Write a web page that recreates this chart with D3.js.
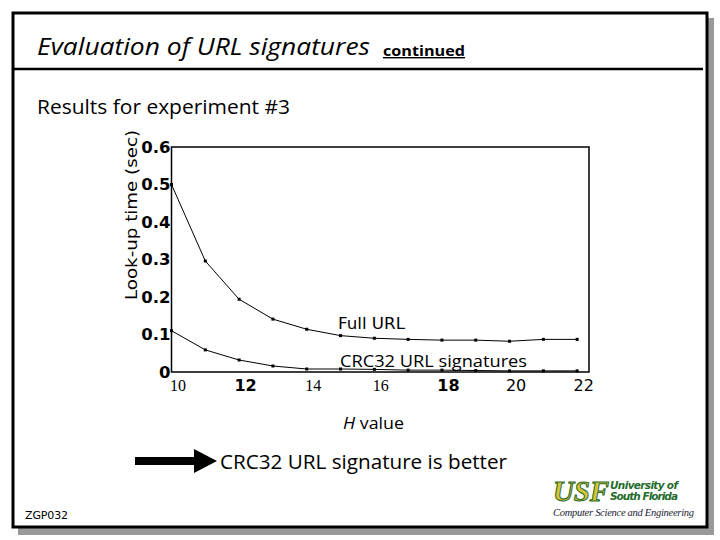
<!DOCTYPE html>
<html><head><meta charset="utf-8">
<script src="https://cdn.jsdelivr.net/npm/d3@7"></script>
<style>body{margin:0;background:#fff}svg{display:block}</style>
</head><body>
<script>
const hValues = [10,11,12,13,14,15,16,17,18,19,20,21,22];
const fullURL = [0.500,0.296,0.194,0.141,0.114,0.097,0.090,0.087,0.085,0.085,0.082,0.087,0.087];
const crc32   = [0.110,0.059,0.032,0.016,0.008,0.008,0.007,0.005,0.005,0.004,0.003,0.003,0.003];
const yTicks = [0,0.1,0.2,0.3,0.4,0.5,0.6];
const yTickLabels = ["0","0.1","0.2","0.3","0.4","0.5","0.6"];
const xTicks = [10,12,14,16,18,20,22];
const xTickLabels = ["10","12","14","16","18","20","22"];
const seriesNames = ["Full URL","CRC32 URL signatures"];

const W=720,H=540;
const svg=d3.select("body").append("svg").attr("width",W).attr("height",H);
const sans="'DejaVu Sans', sans-serif";
const hand="'Open Sans', 'DejaVu Sans', sans-serif";

// slide frame with shadow
svg.append("rect").attr("x",18).attr("y",18).attr("width",696).attr("height",517).attr("fill","#999");
svg.append("rect").attr("x",13).attr("y",13).attr("width",694).attr("height",514).attr("fill","#fff").attr("stroke","#000").attr("stroke-width",3);

// title
svg.append("text").attr("x",37).attr("y",55).attr("font-family",hand).attr("font-style","italic").attr("font-weight",500).attr("font-size",24).attr("textLength",333).attr("lengthAdjust","spacingAndGlyphs").text("Evaluation of URL signatures");
svg.append("text").attr("x",383).attr("y",56).attr("font-family",hand).attr("font-weight","bold").attr("font-size",14).attr("text-decoration","underline").attr("textLength",82).attr("lengthAdjust","spacingAndGlyphs").text("continued");
svg.append("line").attr("x1",12).attr("x2",703).attr("y1",69).attr("y2",69).attr("stroke","#000").attr("stroke-width",2.5);
svg.append("text").attr("x",37).attr("y",114).attr("font-family",hand).attr("font-size",20).attr("textLength",253).attr("lengthAdjust","spacingAndGlyphs").text("Results for experiment #3");

// chart
const x=d3.scaleLinear().domain([10,22.35]).range([171.5,589]);
const y=d3.scaleLinear().domain([0,0.6]).range([372,147]);
const g=svg.append("g");
g.append("rect").attr("x",x(10)).attr("y",y(0.6)).attr("width",x(22.35)-x(10)).attr("height",y(0)-y(0.6)).attr("fill","none").attr("stroke","#000").attr("stroke-width",1.5);

// y axis
const ya=g.append("g").attr("transform",`translate(${x(10)},0)`).call(d3.axisLeft(y).tickValues(yTicks).tickFormat((d,i)=>yTickLabels[i]).tickSize(0).tickPadding(1));
ya.select(".domain").remove();
ya.selectAll("text").attr("font-family",sans).attr("font-size",16.5).attr("font-weight",600).attr("fill","#000");

// x axis
const xa=g.append("g").attr("transform",`translate(0,${y(0)})`).call(d3.axisBottom(x).tickValues(xTicks).tickFormat((d,i)=>xTickLabels[i]).tickSize(0).tickPadding(8));
xa.select(".domain").remove();
xa.selectAll("text").attr("fill","#000").attr("dx",6)
  .attr("font-family",(d)=> [10,14,16].includes(d)?"'Liberation Serif', serif":sans)
  .attr("font-weight",(d)=> [12,18].includes(d)?"bold":"normal")
  .attr("font-size",16);

// axis titles
svg.append("text").attr("transform","translate(137,215) rotate(-90)").attr("text-anchor","middle").attr("font-family",sans).attr("font-size",16).attr("textLength",170).attr("lengthAdjust","spacingAndGlyphs").text("Look-up time (sec)");
const hl=svg.append("text").attr("x",343).attr("y",429).attr("font-family",hand).attr("font-size",17).attr("textLength",61).attr("lengthAdjust","spacingAndGlyphs");
hl.append("tspan").attr("font-style","italic").text("H");
hl.append("tspan").text(" value");

// lines
const line=d3.line().x((d,i)=>x(hValues[i])).y(d=>y(d));
[fullURL,crc32].forEach(s=>{
  g.append("path").datum(s).attr("d",line).attr("fill","none").attr("stroke","#000").attr("stroke-width",1);
  g.selectAll(null).data(s).enter().append("rect").attr("x",(d,i)=>x(hValues[i])-1.5).attr("y",d=>y(d)-1.5).attr("width",3).attr("height",3).attr("fill","#000");
});

// series labels
svg.append("text").attr("x",338).attr("y",329).attr("font-family",sans).attr("font-size",16).attr("textLength",67).attr("lengthAdjust","spacingAndGlyphs").text(seriesNames[0]);
svg.append("text").attr("x",340).attr("y",367).attr("font-family",hand).attr("font-size",17).attr("textLength",187).attr("lengthAdjust","spacingAndGlyphs").text(seriesNames[1]);

// arrow
svg.append("path").attr("d","M135,457 L194,457 L194,449 L217,461 L194,473 L194,465 L135,465 Z").attr("fill","#000");
svg.append("text").attr("x",220).attr("y",469).attr("font-family",hand).attr("font-size",20).attr("textLength",287).attr("lengthAdjust","spacingAndGlyphs").text("CRC32 URL signature is better");

svg.append("text").attr("x",25).attr("y",519).attr("font-family",sans).attr("font-size",11).attr("textLength",43).text("ZGP032");

// logo
const lg=svg.append("g");
lg.append("text").attr("x",553).attr("y",501).attr("font-family","'Liberation Serif', serif").attr("font-weight","bold").attr("font-style","italic").attr("font-size",29).attr("fill","#d7c53a").attr("stroke","#2b6b2b").attr("stroke-width",1).attr("textLength",56).text("USF");
lg.append("text").attr("x",610).attr("y",489).attr("font-family",sans).attr("font-weight","bold").attr("font-style","italic").attr("font-size",10.5).attr("fill","#1f6b2a").attr("textLength",68).text("University of");
lg.append("text").attr("x",610).attr("y",500).attr("font-family",sans).attr("font-weight","bold").attr("font-style","italic").attr("font-size",10.5).attr("fill","#1f6b2a").attr("textLength",68).text("South Florida");
lg.append("text").attr("x",553).attr("y",516).attr("font-family","'Liberation Serif', serif").attr("font-style","italic").attr("font-size",10.5).attr("fill","#223").attr("textLength",141).text("Computer Science and Engineering");
</script>
</body></html>
